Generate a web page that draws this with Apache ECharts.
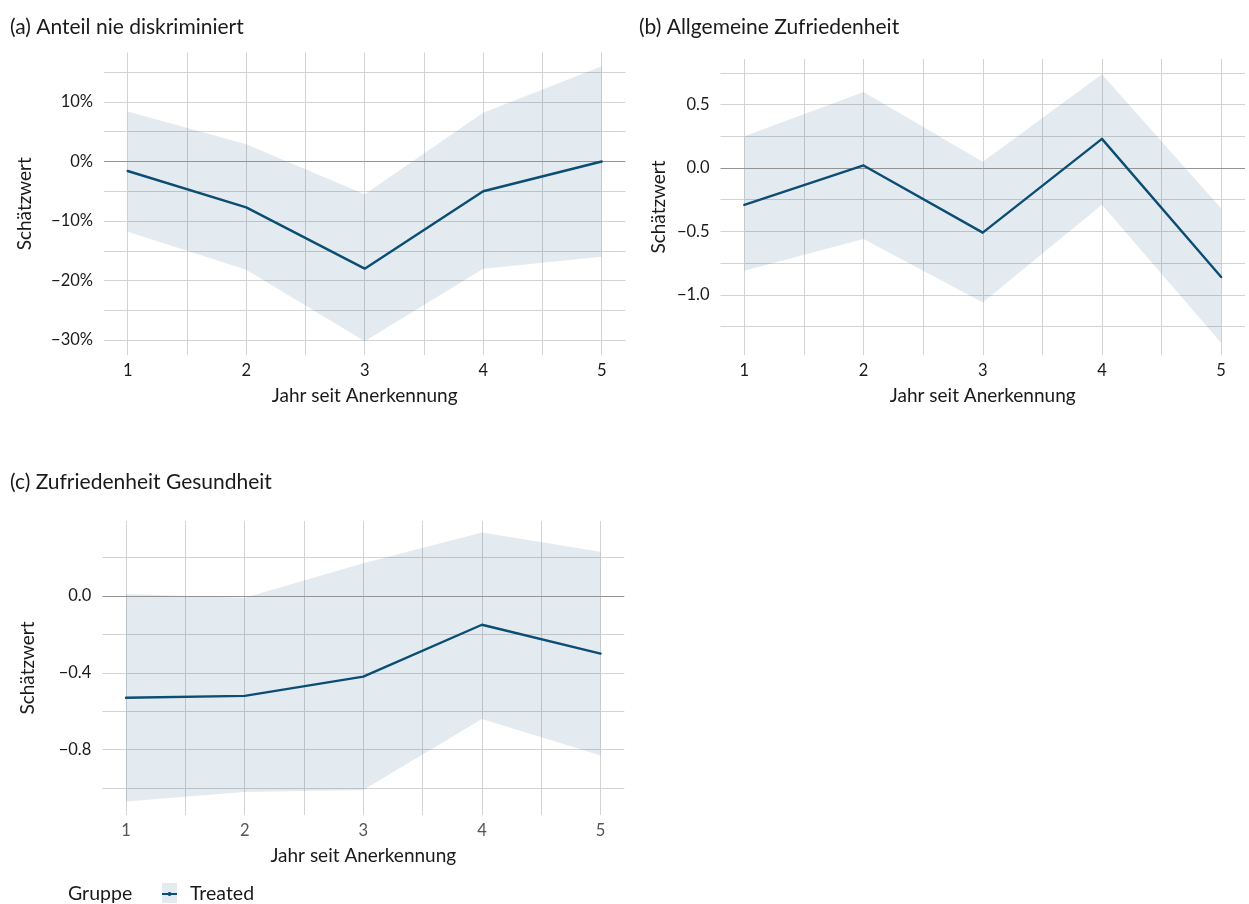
<!DOCTYPE html>
<html>
<head>
<meta charset="utf-8">
<script src="https://cdn.jsdelivr.net/npm/echarts@6/dist/echarts.min.js"></script>
<style>
  html, body { margin: 0; background: #fff; }
  #main { width: 1249px; height: 904px; }
</style>
</head>
<body>
<div id="main"></div>
<script>
const years = [1, 2, 3, 4, 5]
const xGrid = [1, 1.5, 2, 2.5, 3, 3.5, 4, 4.5, 5]

// (a) Anteil nie diskriminiert (Prozent)
const estA = [-1.6, -7.7, -18, -5, 0]
const upA = [8.4, 2.9, -5.5, 8.2, 16]
const loA = [-11.8, -18.2, -30.2, -18, -16]
const gridA = [15, 10, 5, -5, -10, -15, -20, -25, -30]

// (b) Allgemeine Zufriedenheit
const estB = [-0.29, 0.02, -0.51, 0.23, -0.86]
const upB = [0.25, 0.6, 0.05, 0.74, -0.32]
const loB = [-0.81, -0.56, -1.06, -0.29, -1.38]
const gridB = [0.75, 0.5, 0.25, -0.25, -0.5, -0.75, -1, -1.25]

// (c) Zufriedenheit Gesundheit
const estC = [-0.53, -0.52, -0.42, -0.15, -0.3]
const upC = [0.01, -0.01, 0.17, 0.33, 0.23]
const loC = [-1.07, -1.02, -1.01, -0.64, -0.83]
const gridC = [0.2, -0.2, -0.4, -0.6, -0.8, -1]

const FONT = 'Lato'
const LINE = '#0b4d73'
const BAND = 'rgba(0, 75, 115, 0.11)'
const GRIDCOL = '#d3d3d3'
const TXT = '#1a1a1a'

const near = (v, step) => Math.abs(v / step - Math.round(v / step)) < 1e-6
const minus = s => s.replace('-', '\u2212')

function panelSeries(idx, est, up, lo, hLines) {
  const gridLines = hLines.map(v => ({ yAxis: v })).concat(xGrid.map(v => ({ xAxis: v })))
  return [
    {
      // unsichtbare Serie, trägt nur das Gitter
      name: 'grid' + idx,
      type: 'line',
      xAxisIndex: idx,
      yAxisIndex: idx,
      symbol: 'none',
      lineStyle: { opacity: 0 },
      z: 1,
      data: years.map((x, i) => [x, est[i]]),
      markLine: {
        z: 1,
        silent: true,
        symbol: ['none', 'none'],
        label: { show: false },
        lineStyle: { color: GRIDCOL, width: 1, type: 'solid' },
        data: gridLines
      }
    },
    {
      name: 'band' + idx,
      type: 'custom',
      xAxisIndex: idx,
      yAxisIndex: idx,
      z: 2,
      data: years.map((x, i) => [x, lo[i], up[i]]),
      encode: { x: 0, y: [1, 2] },
      renderItem: (params, api) => {
        if (params.dataIndex !== 0) return
        const top = years.map((x, i) => api.coord([x, up[i]]))
        const bottom = years.map((x, i) => api.coord([x, lo[i]])).reverse()
        return { type: 'polygon', shape: { points: top.concat(bottom) }, style: { fill: BAND } }
      }
    },
    {
      name: 'Treated',
      type: 'line',
      xAxisIndex: idx,
      yAxisIndex: idx,
      symbol: 'none',
      itemStyle: { color: LINE },
      lineStyle: { color: LINE, width: 2.4, cap: 'round', join: 'round' },
      z: 4,
      data: years.map((x, i) => [x, est[i]]),
      markLine: {
        z: 3,
        silent: true,
        symbol: ['none', 'none'],
        label: { show: false },
        lineStyle: { color: '#949494', width: 1, type: 'solid' },
        data: [{ yAxis: 0 }]
      }
    }
  ]
}

function xAxisFor(idx, labelColor) {
  return {
    type: 'value',
    gridIndex: idx,
    min: 0.8,
    max: 5.2,
    interval: 0.2,
    axisLine: { show: false },
    axisTick: { show: false },
    splitLine: { show: false },
    axisLabel: {
      margin: 7,
      fontSize: 16.5,
      fontFamily: FONT,
      color: labelColor,
      formatter: v => near(v, 1) ? String(Math.round(v)) : ''
    },
    name: 'Jahr seit Anerkennung',
    nameLocation: 'middle',
    nameGap: 31,
    nameTextStyle: { fontSize: 19, fontFamily: FONT, color: TXT }
  }
}

function yAxisFor(idx, min, max, interval, fmt, nameGap) {
  return {
    type: 'value',
    gridIndex: idx,
    min, max, interval,
    axisLine: { show: false },
    axisTick: { show: false },
    splitLine: { show: false },
    axisLabel: { margin: 11, fontSize: 16.5, fontFamily: FONT, color: TXT, formatter: fmt },
    name: 'Schätzwert',
    nameLocation: 'middle',
    nameGap,
    nameTextStyle: { fontSize: 19, fontFamily: FONT, color: TXT }
  }
}

const chart = echarts.init(document.getElementById('main'))

const titleStyle = { fontSize: 21, fontWeight: 'normal', fontFamily: FONT, color: TXT }

const option = {
  animation: false,
  textStyle: { fontFamily: FONT },
  title: [
    { text: '(a) Anteil nie diskriminiert', left: 10, top: 17, padding: 0, textStyle: titleStyle },
    { text: '(b) Allgemeine Zufriedenheit', left: 639, top: 17, padding: 0, textStyle: titleStyle },
    { text: '(c) Zufriedenheit Gesundheit', left: 10, top: 472, padding: 0, textStyle: titleStyle },
    { text: 'Gruppe', left: 68, top: 884, padding: 0, textStyle: { fontSize: 19.5, fontWeight: 'normal', fontFamily: FONT, color: TXT } }
  ],
  legend: {
    data: [{ name: 'Treated', icon: 'path://M0,4h15v2H0z M5.5,5a2,2 0 1,1 4,0a2,2 0 1,1 -4,0z' }],
    left: 162,
    top: 884,
    padding: 0,
    itemWidth: 15,
    itemHeight: 5,
    textStyle: { fontSize: 19.5, fontFamily: FONT, color: TXT, padding: [0, 0, 0, 8] }
  },
  graphic: [
    { type: 'rect', left: 162, top: 883, shape: { width: 15, height: 20 }, style: { fill: '#e3eaf0' }, z: 0 }
  ],
  grid: [
    { left: 104, right: 1249 - 625.4, top: 52.5, bottom: 904 - 355 },
    { left: 720.5, right: 1249 - 1245, top: 59, bottom: 904 - 355 },
    { left: 102.3, right: 1249 - 624.3, top: 521, bottom: 904 - 815 }
  ],
  xAxis: [xAxisFor(0, TXT), xAxisFor(1, TXT), xAxisFor(2, '#555')],
  yAxis: [
    yAxisFor(0, -32.5, 18.3, 2.5, v => near(v, 10) ? minus(Math.round(v) + '%') : '', 70),
    yAxisFor(1, -1.475, 0.86, 0.025, v => near(v, 0.5) ? minus(v.toFixed(1)) : '', 52),
    yAxisFor(2, -1.14, 0.39, 0.01, v => near(v, 0.4) ? minus(v.toFixed(1)) : '', 65)
  ],
  series: [
    ...panelSeries(0, estA, upA, loA, gridA),
    ...panelSeries(1, estB, upB, loB, gridB),
    ...panelSeries(2, estC, upC, loC, gridC)
  ]
}

chart.setOption(option)
</script>
</body>
</html>
